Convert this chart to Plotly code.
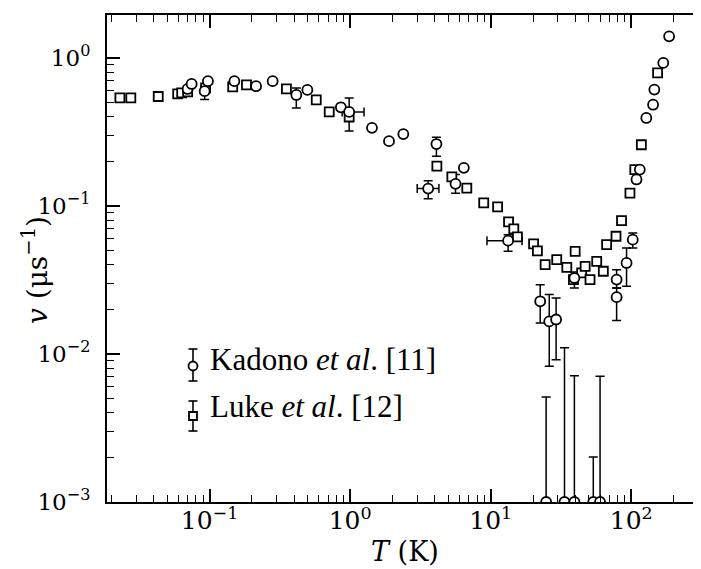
import plotly.graph_objects as go

# ---------------- data ----------------
# Kadono et al. [11]  (circles)
kad_T = [0.0698, 0.0745, 0.0922, 0.0973, 0.150, 0.214, 0.281, 0.414, 0.496, 0.859,
         0.984, 1.43, 1.89, 2.39, 4.11, 3.59, 6.44, 5.62, 13.3, 22.5,
         26.1, 29.2, 39.4, 78.7, 78.7, 92.6, 102.5, 115, 109, 128,
         143, 146, 169, 186]
kad_v = [0.617, 0.667, 0.596, 0.697, 0.697, 0.644, 0.697, 0.562, 0.608, 0.464,
         0.432, 0.337, 0.274, 0.306, 0.262, 0.131, 0.181, 0.141, 0.0583, 0.0227,
         0.0166, 0.0171, 0.0326, 0.0318, 0.0242, 0.0412, 0.0592, 0.176, 0.151, 0.393,
         0.483, 0.611, 0.925, 1.40]
# error bar ends (absolute), None = no bar
kad_v_hi = [None, None, 0.644, None, None, None, None, 0.627, None, None,
            0.537, None, None, None, 0.291, 0.148, None, 0.163, 0.064, 0.0294,
            0.0252, 0.0239, 0.0358, 0.0371, 0.0279, 0.052, 0.0657, None, None, None,
            None, None, None, None]
kad_v_lo = [None, None, 0.523, None, None, None, None, 0.459, None, None,
            0.321, None, None, None, 0.217, 0.112, None, 0.122, 0.0494, 0.0162,
            0.00826, 0.00915, 0.0279, 0.0279, 0.0168, 0.0287, 0.052, None, None, None,
            None, None, None, None]
kad_T_lo = [None] * 10 + [0.877] + [None] * 4 + [3.0] + [None] * 2 + [9.41] + [None] * 15
kad_T_hi = [None] * 10 + [1.256] + [None] * 4 + [4.28] + [None] * 2 + [16.7] + [None] * 15

# Kadono points at v ~ 0 (drawn on the lower axis) with upper error bars
kad0_T = [24.8, 33.5, 39.4, 53.7, 60.0]
kad0_v = [0.001, 0.001, 0.001, 0.001, 0.001]
kad0_v_hi = [0.00512, 0.0110, 0.00713, 0.00201, 0.00707]

# Luke et al. [12]  (squares)
luke_T = [0.023, 0.0275, 0.0431, 0.0593, 0.0633, 0.0698, 0.0937, 0.146, 0.183, 0.352,
          0.574, 0.710, 0.984, 4.14, 5.29, 6.76, 8.92, 11.2, 13.4, 14.6,
          15.5, 20.2, 21.5, 24.4, 29.5, 34.8, 38.8, 39.9, 44.4, 47.0,
          50.9, 56.8, 63.3, 66.8, 77.9, 85.3, 97.9, 106, 118, 154]
luke_v = [0.537, 0.537, 0.549, 0.571, 0.58, 0.589, 0.627, 0.637, 0.657, 0.617,
          0.520, 0.432, 0.399, 0.186, 0.157, 0.132, 0.105, 0.0985, 0.078, 0.070,
          0.0618, 0.0554, 0.0497, 0.0401, 0.0434, 0.0385, 0.0318, 0.0494, 0.0353, 0.0391,
          0.0318, 0.0422, 0.0362, 0.0548, 0.0624, 0.0796, 0.122, 0.176, 0.259, 0.792]

x_tickvals = [0.1, 1, 10, 100]
x_ticktext = ["10<sup>\u22121</sup>", "10<sup>0</sup>", "10<sup>1</sup>", "10<sup>2</sup>"]
y_tickvals = [0.001, 0.01, 0.1, 1]
y_ticktext = ["10<sup>\u22123</sup>", "10<sup>\u22122</sup>", "10<sup>\u22121</sup>", "10<sup>0</sup>"]
minor_vals = [m * 10.0 ** e for e in range(-3, 3) for m in range(2, 10)]

x_title = "<i>T</i> (K)"
y_title = "<i>v</i> (\u03bcs<sup>\u22121</sup>)"
legend_names = ["Kadono <i>et al</i>. [11]", "Luke <i>et al</i>. [12]"]

# ---------------- figure ----------------
W, H = 701, 569
ML, MR, MT, MB = 99, 2, 7, 75
SERIF = "DejaVu Serif"
TEXTSERIF = "Liberation Serif"

fig = go.Figure()

circle_marker = dict(symbol="circle", size=10, color="white", line=dict(color="black", width=1.8))
square_marker = dict(symbol="square", size=9, color="white", line=dict(color="black", width=1.8))
eb = dict(color="black", thickness=1.5, width=4.5)


def add_errors(T, v, v_hi, v_lo, T_lo, T_hi):
    groups = {}
    for i in range(len(T)):
        hy = v_hi[i] is not None
        hx = T_lo is not None and T_lo[i] is not None
        if not hy and not hx:
            continue
        groups.setdefault((hx, hy), []).append(i)
    for (hx, hy), idx in groups.items():
        tr = dict(x=[T[i] for i in idx], y=[v[i] for i in idx], mode="markers",
                  marker=dict(size=1, color="rgba(0,0,0,0)"), showlegend=False, hoverinfo="skip")
        if hy:
            tr["error_y"] = dict(type="data", symmetric=False,
                                 array=[v_hi[i] - v[i] for i in idx],
                                 arrayminus=[v[i] - v_lo[i] for i in idx], **eb)
        if hx:
            tr["error_x"] = dict(type="data", symmetric=False,
                                 array=[T_hi[i] - T[i] for i in idx],
                                 arrayminus=[T[i] - T_lo[i] for i in idx], **eb)
        fig.add_trace(go.Scatter(**tr))


add_errors(kad_T, kad_v, kad_v_hi, kad_v_lo, kad_T_lo, kad_T_hi)
fig.add_trace(go.Scatter(x=kad0_T, y=kad0_v, mode="markers", marker=circle_marker,
                         showlegend=False,
                         error_y=dict(type="data", symmetric=False,
                                      array=[h - v for h, v in zip(kad0_v_hi, kad0_v)],
                                      arrayminus=[0] * len(kad0_v), **eb)))
fig.add_trace(go.Scatter(x=luke_T, y=luke_v, mode="markers", marker=square_marker,
                         name=legend_names[1], showlegend=False))
fig.add_trace(go.Scatter(x=kad_T, y=kad_v, mode="markers", marker=circle_marker,
                         name=legend_names[0], showlegend=False))

axis_common = dict(
    type="log", showgrid=False, zeroline=False,
    showline=True, linecolor="black", linewidth=2, mirror="allticks",
    ticks="inside", ticklen=13, tickwidth=1.5, tickcolor="black",
    minor=dict(ticks="inside", ticklen=7, tickwidth=1.2, tickcolor="black",
               tickvals=minor_vals, showgrid=False),
)

fig.update_xaxes(range=[-1.73, 2.539], tickmode="array", tickvals=x_tickvals,
                 ticktext=x_ticktext, ticklabelstandoff=-5,
                 tickfont=dict(family=SERIF, size=25, color="black"),
                 **axis_common)
fig.update_yaxes(range=[-3, 0.29], tickmode="array", tickvals=y_tickvals,
                 ticktext=y_ticktext, ticklabelstandoff=10,
                 tickfont=dict(family=SERIF, size=23, color="black"),
                 **axis_common)

# ---- positions in pixels -> paper ----
PW, PH = W - ML - MR, H - MT - MB


def px(x):
    return (x - ML) / PW


def py(y):
    return (H - MB - y) / PH


shapes = []
annotations = [
    dict(text=x_title, xref="paper", yref="paper", x=px(397), y=py(543),
         xanchor="center", yanchor="middle", showarrow=False,
         font=dict(family=SERIF, size=27, color="black")),
    dict(text=y_title, xref="paper", yref="paper", x=px(27), y=py(262),
         xanchor="center", yanchor="middle", showarrow=False, textangle=-90,
         font=dict(family=SERIF, size=28, color="black")),
]

# ---- hand-drawn legend (marker with error-bar glyph + text) ----
leg_items = [
    (legend_names[0], "circle", 341, 373, 358, 351),
    (legend_names[1], "rect", 393, 423, 408, 399),
]
bx = 185
for name, kind, ytop, ybot, ymark, ytext in leg_items:
    line = dict(color="black", width=1.6)
    shapes.append(dict(type="line", xref="paper", yref="paper",
                       x0=px(bx), x1=px(bx), y0=py(ytop), y1=py(ybot), line=line))
    for yc in (ytop, ybot):
        shapes.append(dict(type="line", xref="paper", yref="paper",
                           x0=px(bx - 4.5), x1=px(bx + 4.5), y0=py(yc), y1=py(yc), line=line))
    r = 4.5 if kind == "circle" else 4
    shapes.append(dict(type=kind, xref="paper", yref="paper",
                       x0=px(bx - r), x1=px(bx + r), y0=py(ymark - r), y1=py(ymark + r),
                       fillcolor="white", line=dict(color="black", width=1.8)))
    annotations.append(dict(text=name, xref="paper", yref="paper", x=px(200), y=py(ytext),
                            xanchor="left", yanchor="middle", showarrow=False,
                            font=dict(family=TEXTSERIF, size=31, color="black")))

fig.update_layout(
    width=W, height=H,
    margin=dict(l=ML, r=MR, t=MT, b=MB, autoexpand=False),
    paper_bgcolor="white", plot_bgcolor="white",
    showlegend=False,
    shapes=shapes, annotations=annotations,
)

fig.write_html("out.html")
